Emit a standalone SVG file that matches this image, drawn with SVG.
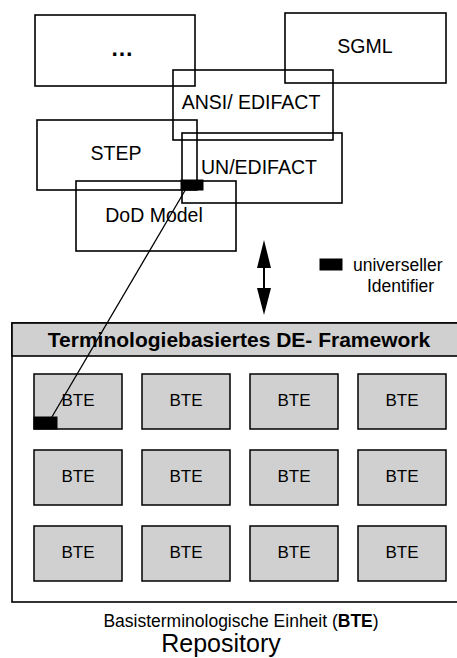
<svg xmlns="http://www.w3.org/2000/svg" width="457" height="658" viewBox="0 0 457 658">
<style>
.box{fill:none;stroke:#000;stroke-width:1.6}
.bte{fill:#d0d0d0;stroke:#000;stroke-width:1.5}
.t{font-family:"Liberation Sans",Arial,sans-serif;font-size:19.5px;text-anchor:middle;fill:#000}
.bt{font-family:"Liberation Sans",Arial,sans-serif;font-size:17px;text-anchor:middle;fill:#000}
.lg{font-family:"Liberation Sans",Arial,sans-serif;font-size:17.5px;fill:#000}
.id{fill:#000;stroke:#000;stroke-width:1}
</style>
<defs>
<g id="btebox"><rect class="bte" x="0" y="0" width="88" height="55"/><text class="bt" x="44" y="32">BTE</text></g>
</defs>
<rect width="457" height="658" fill="#fff"/>
<g id="dots"><rect class="box" x="35" y="15" width="160" height="71"/><text class="t" x="122" y="56" style="font-weight:bold;font-size:23px">…</text></g>
<g id="sgml"><rect class="box" x="285" y="13" width="161" height="70"/><text class="t" x="365" y="53">SGML</text></g>
<g id="ansi"><rect class="box" x="173" y="70" width="160" height="70"/><text class="t" x="251" y="109">ANSI/ EDIFACT</text></g>
<g id="step"><rect class="box" x="37" y="120" width="160" height="70"/><text class="t" x="116" y="160">STEP</text></g>
<g id="unedifact"><rect class="box" x="182" y="133" width="160" height="70"/><text class="t" x="259" y="174">UN/EDIFACT</text></g>
<g id="dod"><rect class="box" x="76" y="181" width="160" height="70"/><text class="t" x="154" y="222">DoD Model</text></g>
<g id="identifier-top"><rect class="id" x="181" y="180" width="22" height="10"/></g>
<g id="framework">
<rect x="12" y="323" width="450" height="279" fill="#fff" stroke="#000" stroke-width="1.6"/>
<rect x="12" y="323" width="450" height="33" fill="#d0d0d0" stroke="#000" stroke-width="1.6"/>
<text class="t" x="239" y="347" style="font-weight:bold;font-size:21px">Terminologiebasiertes DE- Framework</text>
</g>
<g id="bte-grid">
<use href="#btebox" x="34" y="374"/><use href="#btebox" x="142" y="374"/><use href="#btebox" x="250" y="374"/><use href="#btebox" x="358" y="374"/>
<use href="#btebox" x="34" y="450"/><use href="#btebox" x="142" y="450"/><use href="#btebox" x="250" y="450"/><use href="#btebox" x="358" y="450"/>
<use href="#btebox" x="34" y="526"/><use href="#btebox" x="142" y="526"/><use href="#btebox" x="250" y="526"/><use href="#btebox" x="358" y="526"/>
</g>
<g id="identifier-bte"><rect class="id" x="34" y="417" width="23" height="12"/></g>
<g id="connectors">
<line x1="190" y1="182" x2="46" y2="427" stroke="#000" stroke-width="1.3"/>
<line x1="264" y1="262" x2="264" y2="292" stroke="#000" stroke-width="2"/>
<polygon points="264,240 257,268 271,268" fill="#000"/>
<polygon points="264,315 257,288 271,288" fill="#000"/>
</g>
<g id="legend">
<rect class="id" x="320" y="259" width="22" height="11"/>
<text class="lg" x="353" y="271">universeller</text>
<text class="lg" x="367" y="292">Identifier</text>
</g>
<g id="captions">
<text class="t" x="241" y="627" style="font-size:17.5px">Basisterminologische Einheit (<tspan font-weight="bold">BTE</tspan>)</text>
<text class="t" x="221" y="652" style="font-size:25px">Repository</text>
</g>
</svg>
